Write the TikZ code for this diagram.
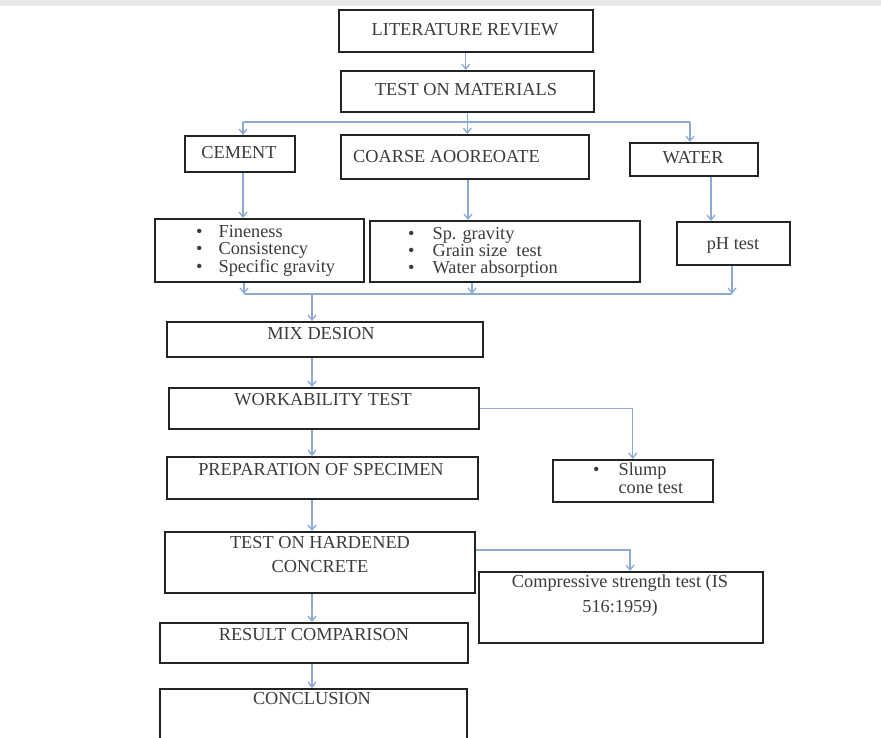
\documentclass[tikz,border=0pt]{standalone}
\usepackage{fontspec}
\setmainfont{Liberation Serif}
\usetikzlibrary{arrows.meta}
\definecolor{connc}{RGB}{140,170,210}
\definecolor{txt}{RGB}{60,60,60}
\definecolor{boxline}{RGB}{35,35,35}
\definecolor{band}{RGB}{232,232,232}
\begin{document}
\begin{tikzpicture}[x=1pt,y=-1pt,
  box/.style={draw=boxline,line width=1.6pt,fill=white,anchor=north west,inner sep=0pt},
  lbl/.style={text=txt,font=\fontsize{18.3}{16.7}\selectfont,inner sep=0pt},
  conn/.style={draw=connc,line width=1.3pt},
  arr/.style={conn,-{Straight Barb[length=5pt,width=8pt]}}]
\useasboundingbox (0,0) rectangle (881,737);
\clip (0,0) rectangle (881,737);
\fill[band] (0,0) rectangle (881,6);

% boxes
\node[box,minimum width=254,minimum height=42] (lit) at (338,9) {};
\node[box,minimum width=253,minimum height=41] (mat) at (340,70) {};
\node[box,minimum width=110,minimum height=36] (cem) at (184,135) {};
\node[box,minimum width=248,minimum height=44] (coa) at (340,134) {};
\node[box,minimum width=128,minimum height=33] (wat) at (629,142) {};
\node[box,minimum width=209,minimum height=63] (fin) at (154,218) {};
\node[box,minimum width=270,minimum height=61] (sp) at (369,220) {};
\node[box,minimum width=113,minimum height=43] (ph) at (676,221) {};
\node[box,minimum width=316,minimum height=35] (mix) at (166,321) {};
\node[box,minimum width=310,minimum height=41] (work) at (168,387) {};
\node[box,minimum width=311,minimum height=42] (prep) at (166,456) {};
\node[box,minimum width=160,minimum height=42] (slump) at (552,459) {};
\node[box,minimum width=310,minimum height=61] (hard) at (164,531) {};
\node[box,minimum width=284,minimum height=71] (comp) at (478,571) {};
\node[box,minimum width=308,minimum height=40] (res) at (159,622) {};
\node[box,minimum width=307,minimum height=70] (con) at (159,688) {};

% texts
\node[lbl] (tlit) at (465,30) {LITERATURE REVIEW};
\node[lbl] (tmat) at (466,90) {TEST ON MATERIALS};
\node[lbl] (tcem) at (239,153) {CEMENT};
\node[lbl,anchor=west] (tcoa) at (353,157) {COARSE AOOREOATE};
\node[lbl] (twat) at (693,158) {WATER};
\node[lbl,anchor=west] (tfin) at (196,251) {\begin{tabular}{@{}c@{\hspace{16pt}}l@{}}•&Fineness\\•&Consistency\\•&Specific gravity\end{tabular}};
\node[lbl,anchor=west] (tsp) at (408,253) {\begin{tabular}{@{}c@{\hspace{18pt}}l@{}}•&Sp. gravity\\•&Grain size\ \ test\\•&Water absorption\end{tabular}};
\node[lbl,anchor=base] (tph) at (733,249) {pH test};
\node[lbl] (tmix) at (321,334) {MIX DESION};
\node[lbl] (twork) at (323,400) {WORKABILITY TEST};
\node[lbl] (tprep) at (321,470) {PREPARATION OF SPECIMEN};
\node[lbl,font=\fontsize{18.3}{24}\selectfont,align=center] (thard) at (320,555) {TEST ON HARDENED\\CONCRETE};
\node[lbl,anchor=west,font=\fontsize{18.3}{17.5}\selectfont] (tslump) at (593,481) {\begin{tabular}{@{}c@{\hspace{19pt}}l@{}}•&Slump\\&cone test\end{tabular}};
\node[lbl,font=\fontsize{18.3}{25}\selectfont,align=center] (tcomp) at (620,596) {Compressive strength test (IS\\516:1959)};
\node[lbl] (tres) at (314,635) {RESULT COMPARISON};
\node[lbl] (tcon) at (312,699) {CONCLUSION};

% connector coordinates
\coordinate (bl) at (243,122);
\coordinate (brr) at (690,122);
\coordinate (cx) at (468,0);
\coordinate (wx) at (711,0);
\coordinate (ml) at (244,294);
\coordinate (mr) at (732,294);
\coordinate (sx) at (472,0);
\coordinate (mx) at (312,294);
\coordinate (hc) at (630,550);

% connectors
\draw[arr] (lit.south) -- (lit.south |- mat.north);
\draw[conn] (bl) -- (brr);
\draw[arr] (mat.south) -- (mat.south |- coa.north);
\draw[arr] (bl) -- (bl |- cem.north);
\draw[arr] (brr) -- (brr |- wat.north);
\draw[arr] (cem.south -| bl) -- (fin.north -| bl);
\draw[arr] (coa.south -| cx) -- (sp.north -| cx);
\draw[arr] (wat.south -| wx) -- (ph.north -| wx);
\draw[conn] (ml) -- (mr);
\draw[arr] (fin.south -| ml) -- (ml);
\draw[arr] (sp.south -| sx) -- (sx |- ml);
\draw[arr] (ph.south -| mr) -- (mr);
\draw[arr] (mx) -- (mx |- mix.north);
\draw[arr] (mix.south -| mx) -- (work.north -| mx);
\draw[arr] (work.south -| mx) -- (prep.north -| mx);
\draw[arr] (prep.south -| mx) -- (hard.north -| mx);
\draw[arr] (hard.south -| mx) -- (res.north -| mx);
\draw[arr] (res.south -| mx) -- (con.north -| mx);
\draw[arr] (work.east) -| (slump.north);
\draw[arr] (hard.east |- hc) -- (hc) -- (hc |- comp.north);
\end{tikzpicture}
\end{document}
